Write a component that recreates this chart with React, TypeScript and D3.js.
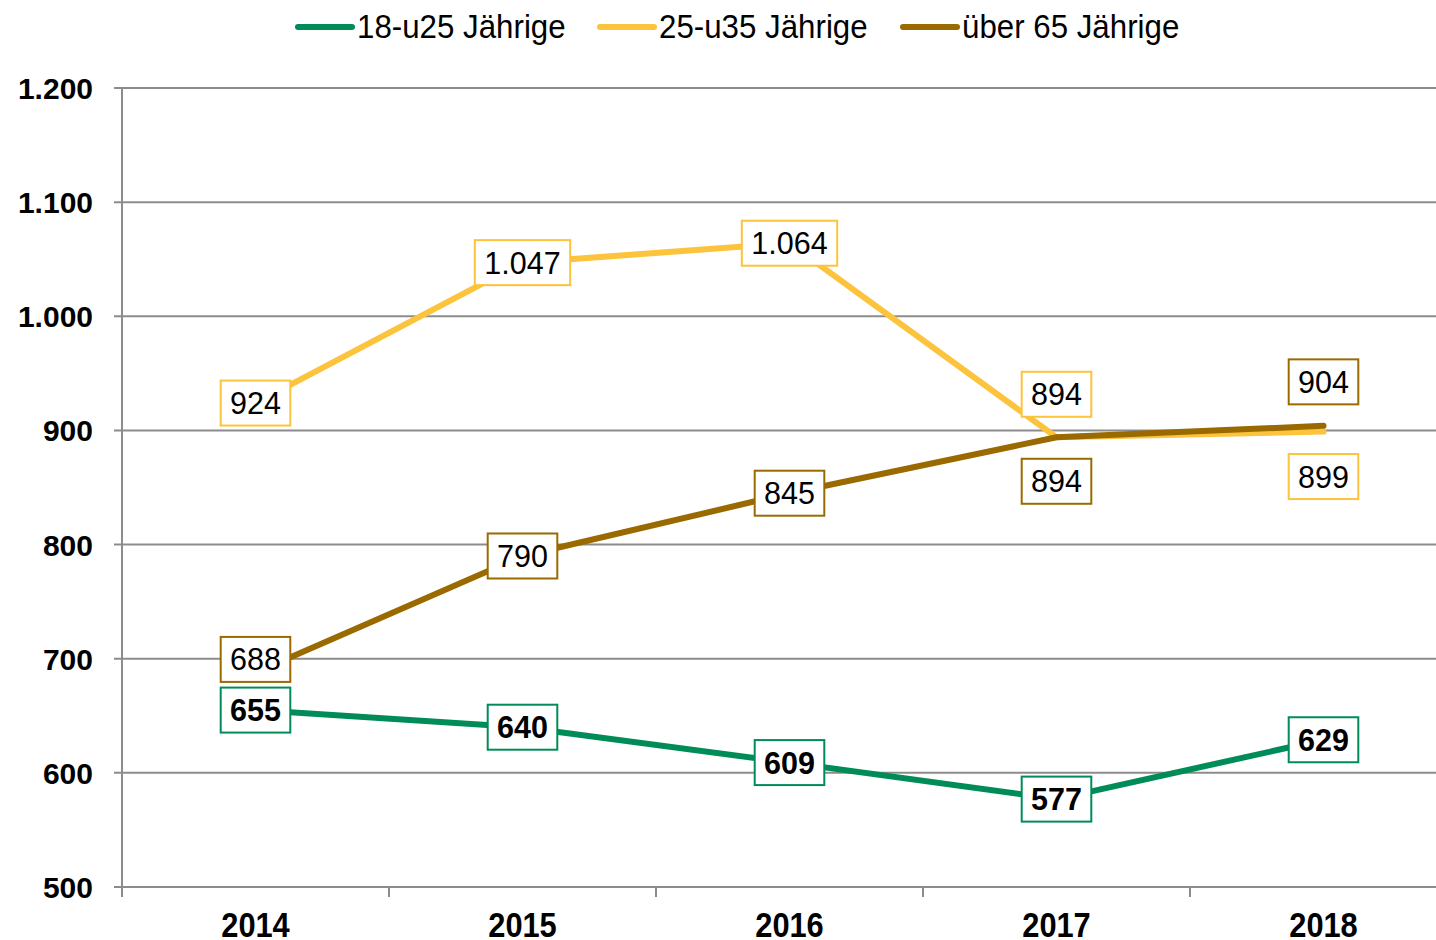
import React from "react";
import * as d3 from "d3";

const years = ["2014", "2015", "2016", "2017", "2018"];
const seriesNames = ["18-u25 Jährige", "25-u35 Jährige", "über 65 Jährige"];
const young = [655, 640, 609, 577, 629];
const mid = [924, 1047, 1064, 894, 899];
const old = [688, 790, 845, 894, 904];
const yTicks = [500, 600, 700, 800, 900, 1000, 1100, 1200];
// label vertical offsets (px) to avoid overlaps
const youngOff = [0, 0, 0, 0, 0];
const midOff = [0, 0, 0, -43, 45];
const oldOff = [-13, 0, 0, 44, -44];

const colors = ["#008C58", "#FCC33D", "#9A6A00"];
const FONT = "'Liberation Sans', Arial, sans-serif";

const fmt = (v: number) => d3.format(",")(v).replace(/,/g, ".");

export default function App() {
  const W = 1436, H = 940;
  const left = 122, top = 88, bottom = 887;
  const step = 267;
  const x = d3.scalePoint<string>().domain(years).range([left + step / 2, left + step / 2 + step * (years.length - 1)]);
  const y = d3.scaleLinear().domain([500, 1200]).range([bottom, top]);
  const line = d3.line<number>().x((_, i) => x(years[i])!).y((d) => y(d));

  const series = [
    { name: seriesNames[1], data: mid, off: midOff, color: colors[1], bold: false },
    { name: seriesNames[2], data: old, off: oldOff, color: colors[2], bold: false },
    { name: seriesNames[0], data: young, off: youngOff, color: colors[0], bold: true },
  ];

  const textW = (s: string) => {
    let w = 0;
    for (const c of s) w += c === "." ? 8.6 : 17.2;
    return w;
  };

  const legendItems = [
    { name: seriesNames[0], color: colors[0], x: 298 },
    { name: seriesNames[1], color: colors[1], x: 600 },
    { name: seriesNames[2], color: colors[2], x: 903 },
  ];

  return (
    <svg width={W} height={H} style={{ position: "absolute", left: 0, top: 0, background: "#fff" }} fontFamily={FONT}>
      {/* legend */}
      {legendItems.map((l) => (
        <g key={l.name}>
          <line x1={l.x} x2={l.x + 54} y1={27} y2={27} stroke={l.color} strokeWidth={6} strokeLinecap="round" />
          <g transform={`translate(${l.x + 59},38) scale(0.92,1)`}>
            <text x={0} y={0} fontSize={34} fill="#000">{l.name}</text>
          </g>
        </g>
      ))}
      {/* grid */}
      {yTicks.map((t) => (
        <g key={t}>
          <line x1={114} x2={W} y1={y(t)} y2={y(t)} stroke="#8c8c8c" strokeWidth={2} />
          <text x={93} y={y(t) + 11} textAnchor="end" fontSize={30} fontWeight="bold">{fmt(t)}</text>
        </g>
      ))}
      <line x1={left} x2={left} y1={top} y2={bottom + 10} stroke="#8c8c8c" strokeWidth={2} />
      {d3.range(years.length + 1).map((i) => (
        <line key={i} x1={left + i * step} x2={left + i * step} y1={bottom} y2={bottom + 10} stroke="#8c8c8c" strokeWidth={2} />
      ))}
      {years.map((yr) => (
        <g key={yr} transform={`translate(${x(yr)},937) scale(0.88,1)`}>
          <text x={0} y={0} textAnchor="middle" fontSize={35} fontWeight="bold">{yr}</text>
        </g>
      ))}
      {/* lines */}
      {series.map((s) => (
        <path key={s.name} d={line(s.data)!} fill="none" stroke={s.color} strokeWidth={6} strokeLinecap="round" strokeLinejoin="round" />
      ))}
      {/* labels */}
      {series.map((s) =>
        s.data.map((v, i) => {
          const label = fmt(v);
          const w = textW(label) + 18;
          const cx = x(years[i])!;
          const cy = y(v) + s.off[i];
          return (
            <g key={s.name + i}>
              <rect x={cx - w / 2} y={cy - 22.5} width={w} height={45} fill="#fff" stroke={s.color} strokeWidth={2} />
              <text x={cx} y={cy + 11} textAnchor="middle" fontSize={30.5} fontWeight={s.bold ? "bold" : "normal"}>{label}</text>
            </g>
          );
        })
      )}
    </svg>
  );
}
